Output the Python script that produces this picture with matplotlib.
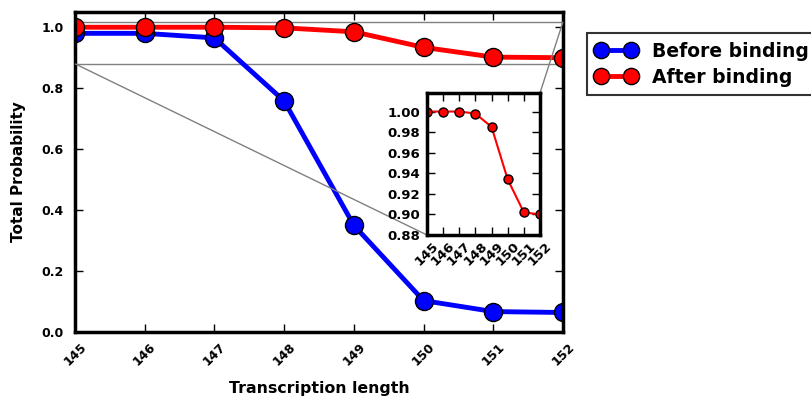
import numpy as np
import matplotlib.pyplot as plt
from mpl_toolkits.axes_grid1.inset_locator import mark_inset

length = [145, 146, 147, 148, 149, 150, 151, 152]
before = [0.980, 0.980, 0.965, 0.758, 0.350, 0.103, 0.067, 0.064]
after = [1.000, 1.000, 1.000, 0.998, 0.985, 0.934, 0.902, 0.900]

plt.rcParams.update({'font.size': 9, 'font.weight': 'bold',
                     'axes.labelweight': 'bold',
                     'xtick.direction': 'in', 'ytick.direction': 'in',
                     'xtick.top': True, 'ytick.right': True,
                     'xtick.major.size': 6, 'ytick.major.size': 6,
                     'xtick.major.width': 1, 'ytick.major.width': 1,
                     'xtick.major.pad': 6, 'ytick.major.pad': 8})

fig = plt.figure(figsize=(8.12, 3.99), dpi=100)
ax = fig.add_axes([75/812, 1-332/399, 488/812, 320/399])

ax.plot(length, before, '-o', color='blue', lw=3.5, ms=13, mec='black', mew=1, label='Before binding')
ax.plot(length, after, '-o', color='red', lw=3.5, ms=13, mec='black', mew=1, label='After binding')
ax.set_xlim(145, 152)
ax.set_ylim(0, 1.05)
ax.set_yticks(np.arange(0, 1.01, 0.2))
ax.set_xticks(length)
ax.set_xticklabels(length, rotation=45)
ax.set_xlabel('Transcription length', fontsize=11.3, labelpad=9)
ax.set_ylabel('Total Probability', fontsize=11, labelpad=11)
for s in ax.spines.values():
    s.set_linewidth(2.5)

leg = ax.legend(loc='upper left', bbox_to_anchor=(1.049, 0.934),
                prop={'weight': 'bold', 'size': 13.5}, numpoints=2,
                fancybox=False, edgecolor='black', borderaxespad=0,
                markerscale=0.9, handlelength=2.2, handletextpad=0.8,
                labelspacing=0.4, borderpad=0.45)
leg.get_frame().set_linewidth(1.5)

axins = fig.add_axes([427/812, 1-235/399, 113/812, 142/399])
axins.plot(length, after, '-o', color='red', lw=1.5, ms=6.5, mec='black', mew=1)
axins.set_xlim(145, 152)
axins.set_ylim(0.88, 1.018)
axins.set_yticks(np.arange(0.88, 1.001, 0.02))
axins.set_yticklabels(['%.2f' % v for v in np.arange(0.88, 1.001, 0.02)], fontsize=9.5)
axins.set_xticks(length)
axins.set_xticklabels(length, rotation=45, fontsize=9.5)
axins.tick_params(axis='y', pad=5)
axins.tick_params(axis='x', pad=3)
for s in axins.spines.values():
    s.set_linewidth(2.5)

mark_inset(ax, axins, loc1=1, loc2=3, fc='none', ec='0.5')

plt.savefig('out.png', dpi=100)
